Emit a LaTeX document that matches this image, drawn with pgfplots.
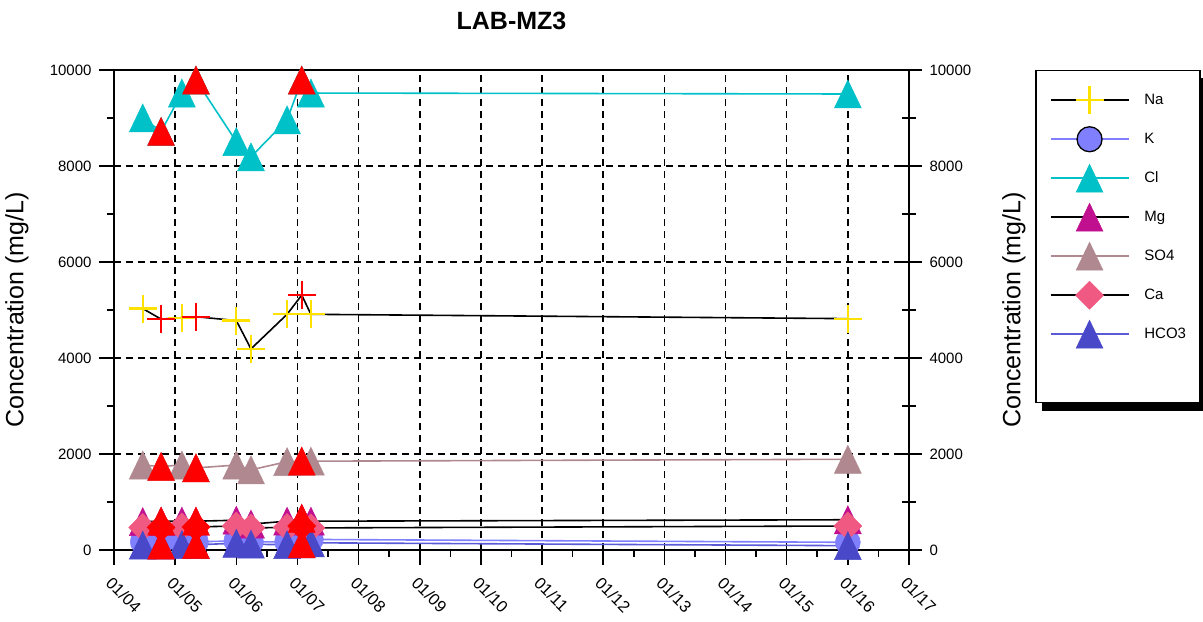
\documentclass[border=0pt]{standalone}
\usepackage{pgfplots}
\pgfplotsset{compat=1.18}
\usepackage{fontspec}
\setmainfont{Liberation Sans}
\definecolor{naY}{RGB}{255,225,0}
\definecolor{kC}{RGB}{128,128,255}
\definecolor{clC}{RGB}{0,192,200}
\definecolor{mgC}{RGB}{192,16,144}
\definecolor{soC}{RGB}{176,136,144}
\definecolor{caC}{RGB}{240,90,130}
\definecolor{hcC}{RGB}{72,72,200}
\definecolor{hcL}{RGB}{90,90,215}
\pgfdeclareplotmark{otri}{%
  \pgfpathmoveto{\pgfqpoint{0pt}{\pgfplotmarksize}}%
  \pgfpathlineto{\pgfqpoint{0.96\pgfplotmarksize}{-\pgfplotmarksize}}%
  \pgfpathlineto{\pgfqpoint{-0.96\pgfplotmarksize}{-\pgfplotmarksize}}%
  \pgfpathclose\pgfusepathqfillstroke}
\pgfdeclareplotmark{odia}{%
  \pgfpathmoveto{\pgfqpoint{0pt}{\pgfplotmarksize}}%
  \pgfpathlineto{\pgfqpoint{\pgfplotmarksize}{0pt}}%
  \pgfpathlineto{\pgfqpoint{0pt}{-\pgfplotmarksize}}%
  \pgfpathlineto{\pgfqpoint{-\pgfplotmarksize}{0pt}}%
  \pgfpathclose\pgfusepathqfillstroke}
\begin{document}
\begin{tikzpicture}
\useasboundingbox (-114bp,-72bp) rectangle (1089bp,550bp);
\begin{axis}[
  scale only axis, width=795bp, height=480bp,
  xmin=4, xmax=17, ymin=0, ymax=10000,
  xtick={4,...,17},
  xticklabels={01/04,01/05,01/06,01/07,01/08,01/09,01/10,01/11,01/12,01/13,01/14,01/15,01/16,01/17},
  ytick={0,2000,...,10000},
  scaled y ticks=false,
  minor x tick num=1, minor y tick num=1,
  xtick pos=left, ytick pos=left,
  tick align=outside,
  major tick length=15bp, minor tick length=7bp,
  every tick/.style={black, line width=1.6bp},
  axis line style={line width=2bp},
  grid=major,
  grid style={black, line width=1.5bp, dash pattern=on 7bp off 5bp},
  /pgf/number format/assume math mode=true,
  /pgf/number format/1000 sep={},
  yticklabel style={font=\fontsize{15bp}{18bp}\selectfont, xshift=-4bp},
  xticklabel style={xshift=-5bp, yshift=-15bp, font=\fontsize{16.5bp}{19bp}\selectfont, rotate=-45, anchor=west, inner sep=0pt},
  ylabel={Concentration (mg/L)},
  ylabel style={font=\fontsize{25bp}{30bp}\selectfont, at={(axis description cs:-0.122,0.5)}, anchor=center},
  title={LAB-MZ3},
  title style={font=\fontsize{25bp}{30bp}\selectfont\bfseries, at={(0.5,1)}, anchor=base, yshift=35bp},
  legend style={name=leg, at={(1.1585,1)}, anchor=north west, draw=black, line width=1.5bp, fill=white,
    inner xsep=14bp, inner ysep=10bp, row sep=0pt, font=\fontsize{15bp}{18bp}\selectfont,
    nodes={inner sep=0pt, minimum height=39bp, anchor=west},
    /tikz/every odd column/.append style={column sep=15bp}},
  legend cell align=left,
  legend image code/.code={\draw[mark repeat=2,mark phase=2,#1] plot coordinates {(0bp,0bp) (39bp,0bp) (78bp,0bp)};},
]
% Na
\addplot[black, line width=1.6bp, mark=+, mark size=14bp, mark options={draw=naY, line width=2.2bp}] coordinates {
 (4.47,5030) (4.77,4810) (5.11,4840) (5.34,4860) (6.00,4780) (6.24,4190) (6.83,4910) (7.07,5310) (7.22,4910) (16.0,4820)};
\addlegendentry{Na}
% K
\addplot[forget plot, kC, line width=1.6bp, mark=*, mark size=12.5bp, mark options={fill=kC, draw=kC, line width=0.5bp}] coordinates {
 (4.47,170) (4.77,170) (5.11,170) (5.34,170) (6.00,190) (6.24,170) (6.83,170) (7.07,190) (7.22,220) (16.0,160)};
\addlegendimage{kC, line width=1.6bp, mark=*, mark size=12.5bp, mark options={fill=kC, draw=black, line width=1.3bp}}
\addlegendentry{K}
% Cl
\addplot[clC, line width=1.6bp, mark=otri, mark size=14bp, mark options={fill=clC, draw=clC, line width=0.5bp}] coordinates {
 (4.47,9000) (4.77,8720) (5.11,9520) (5.34,9790) (6.00,8510) (6.24,8190) (6.83,8960) (7.07,9790) (7.22,9520) (16.0,9500)};
\addlegendentry{Cl}
% Mg
\addplot[black, line width=1.6bp, mark=otri, mark size=14bp, mark options={fill=mgC, draw=mgC, line width=0.5bp}] coordinates {
 (4.47,590) (4.77,600) (5.11,600) (5.34,600) (6.00,620) (6.24,540) (6.83,600) (7.07,660) (7.22,600) (16.0,630)};
\addlegendentry{Mg}
% SO4
\addplot[soC, line width=1.6bp, mark=otri, mark size=14bp, mark options={fill=soC, draw=soC, line width=0.5bp}] coordinates {
 (4.47,1770) (4.77,1740) (5.11,1770) (5.34,1710) (6.00,1770) (6.24,1670) (6.83,1840) (7.07,1850) (7.22,1850) (16.0,1890)};
\addlegendentry{SO4}
% Ca
\addplot[black, line width=1.6bp, mark=odia, mark size=14bp, mark options={fill=caC, draw=caC, line width=0.5bp}] coordinates {
 (4.47,470) (4.77,470) (5.11,480) (5.34,480) (6.00,500) (6.24,460) (6.83,470) (7.07,500) (7.22,460) (16.0,500)};
\addlegendentry{Ca}
% HCO3
\addplot[hcL, line width=1.6bp, mark=otri, mark size=14bp, mark options={fill=hcC, draw=hcC, line width=0.5bp}] coordinates {
 (4.47,100) (4.77,100) (5.11,110) (5.34,110) (6.00,140) (6.24,120) (6.83,110) (7.07,130) (7.22,150) (16.0,90)};
\addlegendentry{HCO3}
\addlegendimage{empty legend}
\addlegendentry{\rule[-30bp]{0pt}{30bp}}
% highlighted samples (red)
\addplot[forget plot, only marks, mark=+, mark size=14bp, mark options={draw=red, line width=2.2bp}] coordinates {(4.77,4810) (5.34,4860) (7.07,5310)};
\addplot[forget plot, only marks, mark=otri, mark size=14bp, mark options={fill=red, draw=red, line width=0.5bp}] coordinates {(4.77,8720) (5.34,9790) (7.07,9790)};
\addplot[forget plot, only marks, mark=otri, mark size=14bp, mark options={fill=red, draw=red, line width=0.5bp}] coordinates {(4.77,600) (5.34,600) (7.07,660)};
\addplot[forget plot, only marks, mark=otri, mark size=14bp, mark options={fill=red, draw=red, line width=0.5bp}] coordinates {(4.77,1740) (5.34,1710) (7.07,1850)};
\addplot[forget plot, only marks, mark=odia, mark size=14bp, mark options={fill=red, draw=red, line width=0.5bp}] coordinates {(4.77,470) (5.34,480) (7.07,500)};
\addplot[forget plot, only marks, mark=otri, mark size=14bp, mark options={fill=red, draw=red, line width=0.5bp}] coordinates {(4.77,100) (5.34,110) (7.07,130)};
\end{axis}
\fill[black] ([xshift=7bp]leg.south west) rectangle ([xshift=7bp,yshift=-8bp]leg.south east);
\fill[black] ([yshift=-8bp]leg.north east) rectangle ([xshift=7bp]leg.south east);
\begin{axis}[
  scale only axis, width=795bp, height=480bp,
  xmin=4, xmax=17, ymin=0, ymax=10000,
  axis x line=none, axis y line*=right,
  ytick={0,2000,...,10000}, minor y tick num=1,
  scaled y ticks=false,
  tick align=center, major tick length=26bp, minor tick length=14bp,
  every tick/.style={black, line width=1.6bp},
  axis line style={line width=2bp},
  /pgf/number format/assume math mode=true,
  /pgf/number format/1000 sep={},
  yticklabel style={font=\fontsize{15bp}{18bp}\selectfont, xshift=4bp},
  ylabel={Concentration (mg/L)},
  ylabel style={font=\fontsize{25bp}{30bp}\selectfont, at={(axis description cs:1.1321,0.5)}, anchor=center},
]
\end{axis}
\end{tikzpicture}
\end{document}
